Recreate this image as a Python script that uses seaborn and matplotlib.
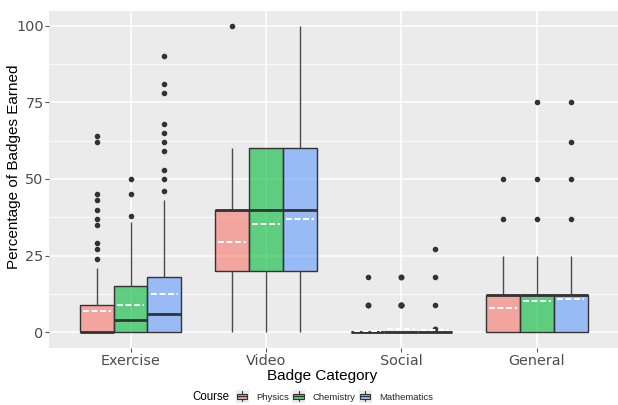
import numpy as np
import pandas as pd
import matplotlib
matplotlib.use("Agg")
import matplotlib.pyplot as plt
import seaborn as sns
from matplotlib.patches import Patch, Rectangle
from matplotlib.lines import Line2D
from matplotlib.legend_handler import HandlerBase
from matplotlib.colors import to_rgba

categories = ["Exercise", "Video", "Social", "General"]
courses = ["Physics", "Chemistry", "Mathematics"]
course_colors = ["#F8766D", "#00BA38", "#619CFF"]
y_ticks = [0, 25, 50, 75, 100]

# Percentage of badges earned (value) and number of learners at that value
exercise_physics_values = [0, 1, 3, 6, 9, 12, 15, 18, 21, 24, 27, 29, 35, 37, 40, 43, 45, 62, 64]
exercise_physics_counts = [51, 6, 10, 7, 6, 4, 3, 2, 1, 1, 1, 1, 1, 1, 1, 1, 1, 1, 1]
exercise_chemistry_values = [0, 2, 4, 8, 12, 15, 18, 25, 30, 36, 38, 45, 50]
exercise_chemistry_counts = [30, 15, 10, 10, 9, 6, 7, 5, 4, 1, 1, 1, 1]
exercise_math_values = [0, 1, 6, 8, 10, 18, 20, 25, 30, 43, 46, 50, 53, 59, 62, 65, 68, 78, 81, 90]
exercise_math_counts = [30, 19, 6, 10, 9, 6, 4, 3, 2, 1, 1, 1, 1, 1, 1, 1, 1, 1, 1, 1]

video_physics_values = [0, 10, 20, 25, 40, 50, 60, 100]
video_physics_counts = [14, 6, 20, 9, 40, 5, 5, 1]
video_chemistry_values = [0, 10, 20, 30, 40, 50, 60]
video_chemistry_counts = [10, 6, 20, 10, 20, 8, 26]
video_math_values = [0, 10, 20, 30, 40, 50, 60, 80, 100]
video_math_counts = [10, 6, 20, 10, 20, 8, 20, 4, 2]

social_physics_values = [0, 9, 18]
social_physics_counts = [96, 3, 1]
social_chemistry_values = [0, 9, 18]
social_chemistry_counts = [91, 6, 3]
social_math_values = [0, 1, 9, 18, 27]
social_math_counts = [95, 2, 1, 1, 1]

general_physics_values = [0, 6, 12, 18, 25, 37, 50]
general_physics_counts = [44, 5, 41, 5, 3, 1, 1]
general_chemistry_values = [0, 6, 12, 18, 25, 37, 50, 75]
general_chemistry_counts = [26, 10, 54, 5, 2, 1, 1, 1]
general_math_values = [0, 6, 12, 18, 25, 37, 50, 62, 75]
general_math_counts = [26, 5, 58, 5, 2, 1, 1, 1, 1]

groups = [
    ("Exercise", "Physics", exercise_physics_values, exercise_physics_counts),
    ("Exercise", "Chemistry", exercise_chemistry_values, exercise_chemistry_counts),
    ("Exercise", "Mathematics", exercise_math_values, exercise_math_counts),
    ("Video", "Physics", video_physics_values, video_physics_counts),
    ("Video", "Chemistry", video_chemistry_values, video_chemistry_counts),
    ("Video", "Mathematics", video_math_values, video_math_counts),
    ("Social", "Physics", social_physics_values, social_physics_counts),
    ("Social", "Chemistry", social_chemistry_values, social_chemistry_counts),
    ("Social", "Mathematics", social_math_values, social_math_counts),
    ("General", "Physics", general_physics_values, general_physics_counts),
    ("General", "Chemistry", general_chemistry_values, general_chemistry_counts),
    ("General", "Mathematics", general_math_values, general_math_counts),
]

df = pd.concat(
    [pd.DataFrame({"category": cat, "course": crs, "pct": np.repeat(vals, cnts)})
     for cat, crs, vals, cnts in groups],
    ignore_index=True,
)

sns.set_theme(style="darkgrid", rc={
    "axes.facecolor": "#EBEBEB",
    "figure.facecolor": "white",
    "grid.color": "white",
})

W, H = 618, 405
fig = plt.figure(figsize=(W / 100, H / 100), dpi=100)
left, right, top, bottom = 49.3, 618, 10.5, 347.5
ax = fig.add_axes([left / W, 1 - bottom / H, (right - left) / W, (bottom - top) / H])

line_col = "#333333"
sns.boxplot(
    data=df, x="category", y="pct", hue="course",
    order=categories, hue_order=courses, palette=course_colors,
    saturation=1, width=0.75, gap=0, linecolor=line_col, linewidth=1.0,
    fliersize=3, legend=False, ax=ax,
    showcaps=False, showmeans=True, meanline=True,
    meanprops=dict(color="white", linestyle=(0, (3, 1.4)), linewidth=1.4, gid="mean"),
    medianprops=dict(linewidth=2.0, color=line_col),
    whiskerprops=dict(linewidth=1.0, color="#4A4A4A"),
    flierprops=dict(marker="o", markerfacecolor=line_col, markeredgecolor=line_col),
)

# translucent box fills so the grid shows through
for patch in ax.patches:
    fc = patch.get_facecolor()
    patch.set_facecolor((fc[0], fc[1], fc[2], 0.6))

# mean markers are a little narrower than the boxes
for line in ax.lines:
    if line.get_gid() == "mean":
        x = np.asarray(line.get_xdata(), dtype=float)
        c = x.mean()
        half = (x.max() - x.min()) / 2 * 0.82
        line.set_xdata([c - half, c + half])
        line.set_zorder(5)

ax.set_xlim(-0.6, 3.6)
ax.set_ylim(-5, 105)
ax.set_yticks(y_ticks)
ax.set_yticks([12.5, 37.5, 62.5, 87.5], minor=True)
ax.set_xticks(range(len(categories)))
ax.set_xticklabels(categories)
ax.set_axisbelow(True)
ax.grid(which="major", axis="both", color="white", linewidth=1.1)
ax.grid(which="minor", axis="y", color="white", linewidth=0.55)
ax.set_xlabel("")
ax.set_ylabel("")
for s in ax.spines.values():
    s.set_visible(False)

ax.tick_params(axis="both", which="major", bottom=True, left=True, length=3, width=0.8,
               color="#555555", labelcolor="#4D4D4D", labelsize=10.4)
ax.tick_params(axis="x", pad=2)
ax.tick_params(axis="y", pad=1)
ax.tick_params(which="minor", length=0)
for lab in ax.get_xticklabels() + ax.get_yticklabels():
    lab.set_family("DejaVu Sans")

title_font = dict(family="Liberation Sans", size=11, color="black")
fig.text(321.7 / W, 1 - 376 / H, "Badge Category", ha="center", va="center", **title_font)
fig.text(14 / W, 1 - 167 / H, "Percentage of Badges Earned", ha="center", va="center",
         rotation=90, **title_font)


class BoxKeyHandler(HandlerBase):
    def create_artists(self, legend, orig_handle, xdescent, ydescent, width, height,
                       fontsize, trans):
        x0, y0 = -xdescent, -ydescent
        bg = Rectangle((x0 - 1, y0 - 1), width + 2, height + 2, facecolor="#EBEBEB",
                       edgecolor="none", transform=trans)
        box = Rectangle((x0, y0 + height * 0.25), width, height * 0.5,
                        facecolor=orig_handle.get_facecolor(), edgecolor=line_col,
                        linewidth=0.8, transform=trans)
        med = Line2D([x0, x0 + width], [y0 + height * 0.5] * 2, color=line_col,
                     linewidth=0.9, transform=trans)
        w1 = Line2D([x0 + width / 2] * 2, [y0, y0 + height * 0.25], color=line_col,
                    linewidth=0.8, transform=trans)
        w2 = Line2D([x0 + width / 2] * 2, [y0 + height * 0.75, y0 + height], color=line_col,
                    linewidth=0.8, transform=trans)
        return [bg, box, med, w1, w2]


handles = [Patch(facecolor=to_rgba(c, 0.6)) for c in course_colors]
fig.legend(handles, courses, loc="center left", bbox_to_anchor=(237 / W, 1 - 396.5 / H),
           ncol=3, frameon=False, handler_map={Patch: BoxKeyHandler()},
           prop=dict(family="Liberation Sans", size=6.8),
           handlelength=1.1, handleheight=1.2, handletextpad=0.9, columnspacing=0.5,
           borderpad=0, borderaxespad=0)
fig.text(192 / W, 1 - 396.5 / H, "Course", ha="left", va="center",
         family="Liberation Sans", size=8.3, color="black")

fig.savefig("out.png", dpi=100)
